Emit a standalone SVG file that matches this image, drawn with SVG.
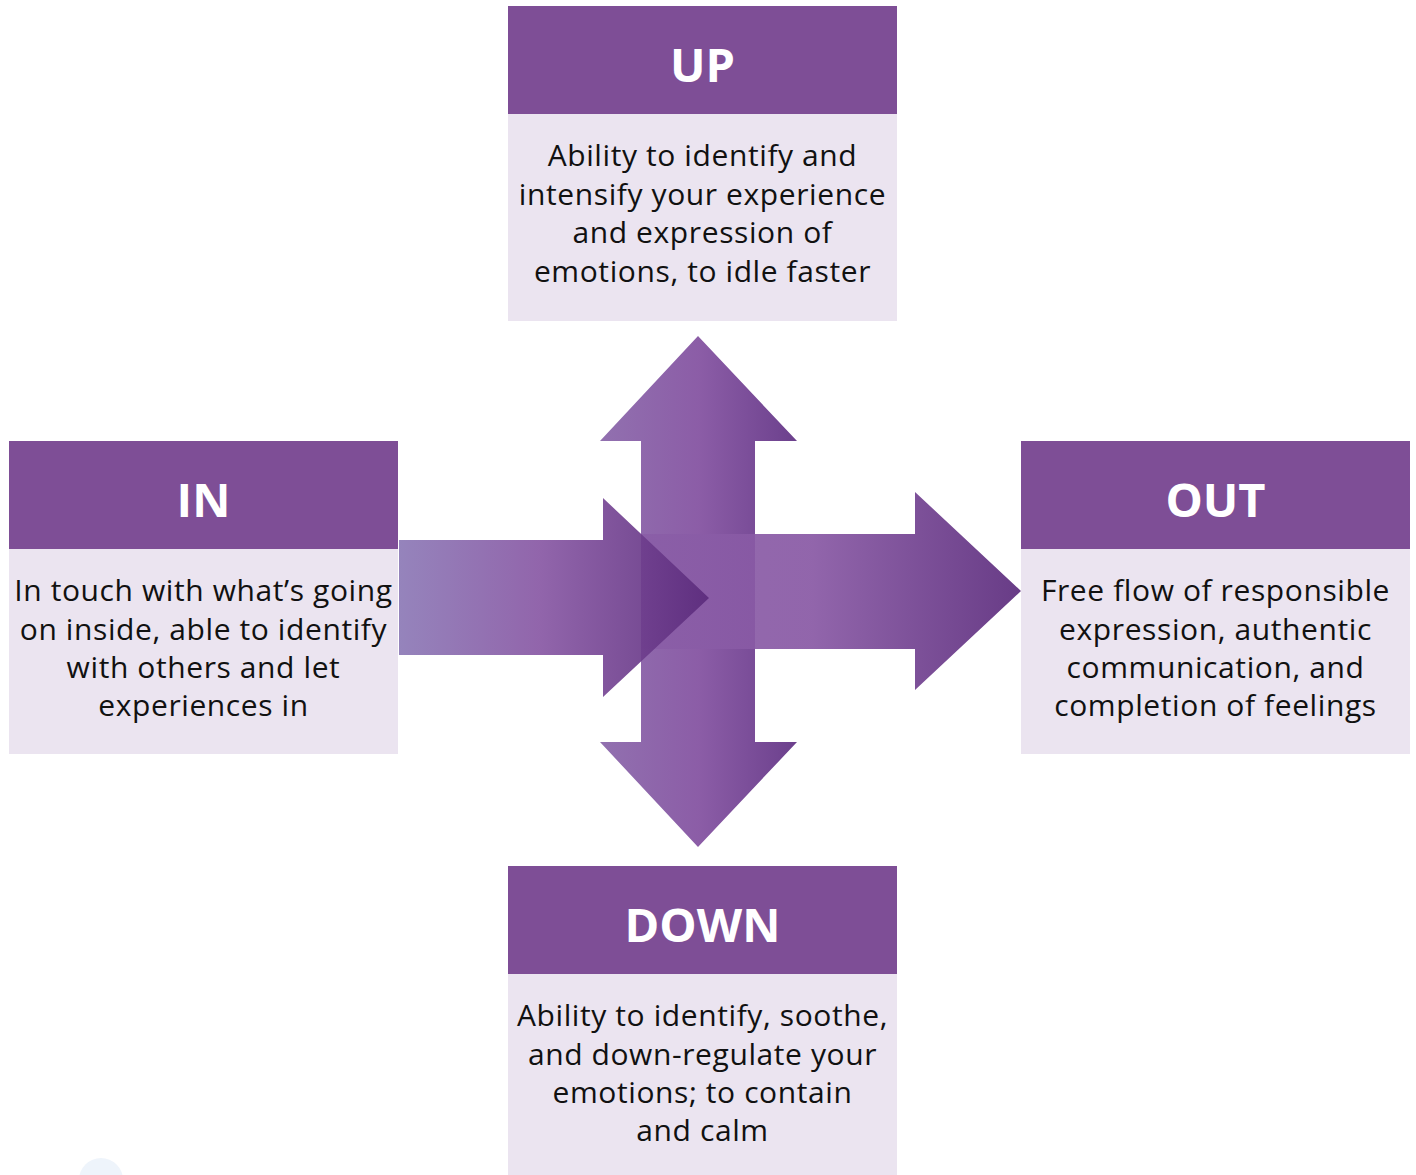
<svg xmlns="http://www.w3.org/2000/svg" width="1416" height="1175" viewBox="0 0 1416 1175">
<defs>
<style>
.hd{fill:#7E4E96}
.bd{fill:#EBE4F0}
.ht{font-family:"Open Sans","Noto Sans",sans-serif;font-weight:700;font-size:47px;fill:#fff;text-anchor:middle}
.bt{font-family:"Open Sans","Noto Sans",sans-serif;font-size:30px;letter-spacing:0.6px;fill:#111;text-anchor:middle}
</style>
<linearGradient id="gIn" x1="399" y1="0" x2="709" y2="0" gradientUnits="userSpaceOnUse">
<stop offset="0" stop-color="#8C79B6"/><stop offset="0.45" stop-color="#8858A4"/><stop offset="1" stop-color="#5B2B7C"/>
</linearGradient>
<linearGradient id="gOut" x1="641" y1="0" x2="1021" y2="0" gradientUnits="userSpaceOnUse">
<stop offset="0" stop-color="#8A5EA7"/><stop offset="0.45" stop-color="#8858A4"/><stop offset="1" stop-color="#5B2B7C"/>
</linearGradient>
<linearGradient id="gV" x1="600" y1="0" x2="797" y2="0" gradientUnits="userSpaceOnUse">
<stop offset="0" stop-color="#8E6CAD"/><stop offset="0.5" stop-color="#8858A4"/><stop offset="1" stop-color="#673A89"/>
</linearGradient>
</defs>
<rect width="1416" height="1175" fill="#fff"/>
<circle cx="101" cy="1180" r="22" fill="#EEF4FB"/>
<g id="connectors">
<polygon points="641,441 600,441 698,336 797,441 755,441 755,742 797,742 698,847 600,742 641,742" fill="url(#gV)" opacity="0.97"/>
<polygon points="641,534 915,534 915,492 1021,591 915,690 915,649 641,649" fill="url(#gOut)" opacity="0.92"/>
<polygon points="399,540 603,540 603,498 709,598 603,697 603,655 399,655" fill="url(#gIn)" opacity="0.92"/>
</g>
<g id="node-up">
<rect class="hd" x="508" y="6" width="389" height="108"/>
<rect class="bd" x="508" y="114" width="389" height="207"/>
<text class="ht" x="702.5" y="82">UP</text>
<text class="bt"><tspan x="702.5" y="166">Ability to identify and</tspan><tspan x="702.5" y="205">intensify your experience</tspan><tspan x="702.5" y="243">and expression of</tspan><tspan x="702.5" y="282">emotions, to idle faster</tspan></text>
</g>
<g id="node-in">
<rect class="hd" x="9" y="441" width="389" height="108"/>
<rect class="bd" x="9" y="549" width="389" height="205"/>
<text class="ht" x="203.5" y="517">IN</text>
<text class="bt"><tspan x="203.5" y="601">In touch with what’s going</tspan><tspan x="203.5" y="640">on inside, able to identify</tspan><tspan x="203.5" y="678">with others and let</tspan><tspan x="203.5" y="716">experiences in</tspan></text>
</g>
<g id="node-out">
<rect class="hd" x="1021" y="441" width="389" height="108"/>
<rect class="bd" x="1021" y="549" width="389" height="205"/>
<text class="ht" x="1215.5" y="517">OUT</text>
<text class="bt"><tspan x="1215.5" y="601">Free flow of responsible</tspan><tspan x="1215.5" y="640">expression, authentic</tspan><tspan x="1215.5" y="678">communication, and</tspan><tspan x="1215.5" y="716">completion of feelings</tspan></text>
</g>
<g id="node-down">
<rect class="hd" x="508" y="866" width="389" height="108"/>
<rect class="bd" x="508" y="974" width="389" height="201"/>
<text class="ht" x="702.5" y="942">DOWN</text>
<text class="bt"><tspan x="702.5" y="1026">Ability to identify, soothe,</tspan><tspan x="702.5" y="1065">and down-regulate your</tspan><tspan x="702.5" y="1103">emotions; to contain</tspan><tspan x="702.5" y="1141">and calm</tspan></text>
</g>
</svg>
